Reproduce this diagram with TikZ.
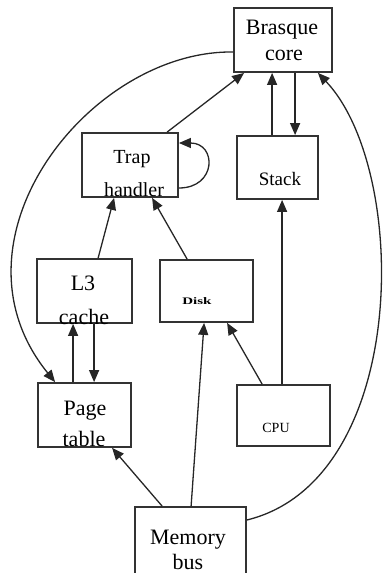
\documentclass[tikz,border=0pt]{standalone}
\usepackage{fontspec}
\setmainfont{Liberation Serif}
\usetikzlibrary{arrows.meta,calc}
\tikzset{
  box/.style={draw=black!80, line width=1.8pt, rectangle, inner sep=0pt, fill=white},
  txt/.style={anchor=base, inner sep=0pt, text=black},
  edge/.style={draw=black!85, line width=1.3pt, -{Triangle[length=12pt,width=10pt]}}
}
\newcommand{\fsz}[1]{\fontsize{#1}{#1}\selectfont}
\begin{document}
\begin{tikzpicture}[x=1pt,y=-1pt]
\useasboundingbox (0,0) rectangle (386,573);
% boxes
\node[box, minimum width=98pt, minimum height=64pt] (core) at (283,40) {};
\node[box, minimum width=96pt, minimum height=64pt] (trap) at (130,165) {};
\node[box, minimum width=81pt, minimum height=63pt] (stack) at (277.5,167.5) {};
\node[box, minimum width=95pt, minimum height=64pt] (l3) at (84.5,291) {};
\node[box, minimum width=93pt, minimum height=62pt] (disk) at (206.5,291) {};
\node[box, minimum width=93pt, minimum height=64pt] (page) at (84.5,415) {};
\node[box, minimum width=93pt, minimum height=61pt] (cpu) at (283.5,415.5) {};
\node[box, minimum width=111pt, minimum height=76pt] (mem) at (190.5,545) {};
% texts
\node[txt, font=\fsz{22}] (core-a) at (282,34) {Brasque};
\node[txt, font=\fsz{22}] (core-b) at (284,60) {core};
\node[txt, font=\fsz{20}] (trap-a) at (132,163) {Trap};
\node[txt, font=\fsz{20}] (trap-b) at (134,196) {handler};
\node[txt, font=\fsz{19}] (stack-a) at (280,185) {Stack};
\node[txt, font=\fsz{22}] (l3-a) at (83,290) {L3};
\node[txt, font=\fsz{22}] (l3-b) at (84,324) {cache};
\node[txt, font=\bfseries\fsz{10}, xscale=1.5] (disk-a) at (197,304) {Disk};
\node[txt, font=\fsz{14}] (cpu-a) at (276,432) {CPU};
\node[txt, font=\fsz{22}] (page-a) at (85,415) {Page};
\node[txt, font=\fsz{22}] (page-b) at (84,446) {table};
\node[txt, font=\fsz{22}] (mem-a) at (188,544) {Memory};
\node[txt, font=\fsz{22}] (mem-b) at (188,569) {bus};
% edges
\draw[edge] ($(trap.north west)+(86,0)$) -- ($(core.south west)+(11,0)$);
\draw[edge] ($(trap.east)+(0,23)$) .. controls +(38,0) and +(38,0) .. ($(trap.east)+(0,-22)$);
\draw[edge] ($(stack.north west)+(36,0)$) -- ($(core.south west)+(39,0)$);
\draw[edge] ($(core.south west)+(62,0)$) -- ($(stack.north west)+(59,0)$);
\draw[edge] ($(core.west)+(0,12)$) .. controls (90,50) and (-60,240) .. ($(page.north west)+(18,0)$);
\draw[edge] ($(mem.east)+(0,-25)$) .. controls (410,480) and (410,170) .. ($(core.south east)+(-15,0)$);
\draw[edge] ($(l3.north west)+(62,0)$) -- ($(trap.south west)+(33,0)$);
\draw[edge] ($(disk.north west)+(28,0)$) -- ($(trap.south west)+(71,0)$);
\draw[edge] ($(page.north west)+(36,0)$) -- ($(l3.south west)+(37,0)$);
\draw[edge] ($(l3.south west)+(58,0)$) -- ($(page.north west)+(57,0)$);
\draw[edge] ($(cpu.north west)+(26,0)$) -- ($(disk.south west)+(68,0)$);
\draw[edge] ($(cpu.north west)+(46,0)$) -- ($(stack.south west)+(46,0)$);
\draw[edge] ($(mem.north west)+(57,0)$) -- ($(disk.south west)+(45,0)$);
\draw[edge] ($(mem.north west)+(28,0)$) -- ($(page.south west)+(75,0)$);
\end{tikzpicture}
\end{document}
